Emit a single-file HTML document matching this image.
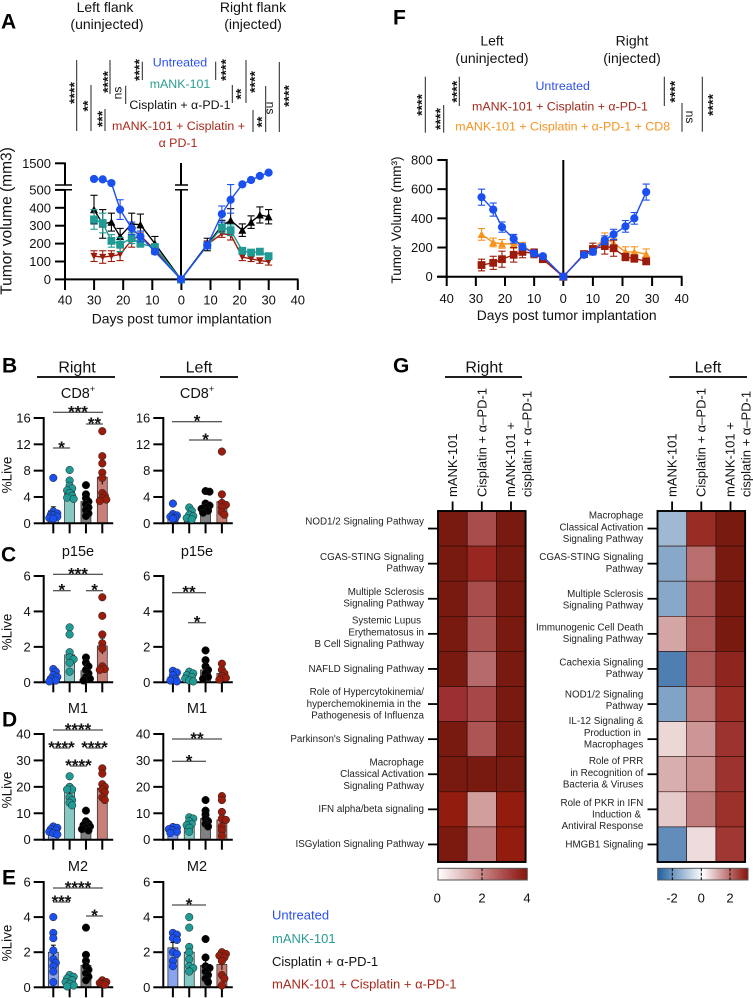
<!DOCTYPE html>
<html lang="en">
<head>
<meta charset="utf-8">
<title>Tumor volume, immune cell and pathway panels</title>
<style>
html,body{margin:0;padding:0;background:#fff;}
svg{display:block;}
text{font-family:"Liberation Sans",Arial,sans-serif;fill:#111;dominant-baseline:central;}
.h{font-size:14px;text-anchor:middle;}
.letter{font-size:21px;font-weight:bold;fill:#000;}
.leg{font-size:12.4px;text-anchor:middle;}
.rl{font-size:9.8px;text-anchor:end;fill:#222;}
.cl{font-size:13px;}
.t{font-size:14.5px;text-anchor:middle;}
.tick{font-size:13px;}
</style>
</head>
<body>
<svg id="fig" xmlns="http://www.w3.org/2000/svg" width="753" height="998" viewBox="0 0 753 998">
<defs>
<linearGradient id="gradRight" x1="0" x2="1" y1="0" y2="0">
<stop offset="0" stop-color="#ffffff"/><stop offset="0.5" stop-color="#c78686"/><stop offset="0.8" stop-color="#a43c3c"/><stop offset="1" stop-color="#86140a"/>
</linearGradient>
<linearGradient id="gradLeft" x1="0" x2="1" y1="0" y2="0">
<stop offset="0" stop-color="#1f5f9f"/><stop offset="0.17" stop-color="#6f97c0"/><stop offset="0.5" stop-color="#ffffff"/><stop offset="0.83" stop-color="#b25c5c"/><stop offset="1" stop-color="#86140a"/>
</linearGradient>
</defs>

<!-- panel letters -->
<text class="letter" x="1" y="22">A</text>
<text class="letter" x="393" y="18">F</text>
<text class="letter" x="2" y="366">B</text>
<text class="letter" x="1" y="555">C</text>
<text class="letter" x="2" y="720">D</text>
<text class="letter" x="2" y="878">E</text>
<text class="letter" x="393" y="366">G</text>

<!-- panel A header -->
<text class="h" x="105" y="7">Left flank</text>
<text class="h" x="107" y="24">(uninjected)</text>
<text class="h" x="253" y="7">Right flank</text>
<text class="h" x="253" y="24">(injected)</text>
<text class="leg" x="180" y="62.7" style="fill:#2b4ff0">Untreated</text>
<text class="leg" x="180" y="84" style="fill:#2a9d94">mANK-101</text>
<text class="leg" x="180" y="105">Cisplatin + α-PD-1</text>
<text class="leg" x="178.5" y="126" style="fill:#a8281a">mANK-101 + Cisplatin +</text>
<text class="leg" x="178" y="143" style="fill:#a8281a">α PD-1</text>

<!-- panel F header -->
<text class="h" x="492" y="40.7">Left</text>
<text class="h" x="492" y="58">(uninjected)</text>
<text class="h" x="632" y="40.7">Right</text>
<text class="h" x="632" y="58">(injected)</text>
<text class="leg" x="562.7" y="86" style="fill:#2b4ff0">Untreated</text>
<text class="leg" x="560" y="106.7" style="fill:#a02a1c">mANK-101 + Cisplatin + α-PD-1</text>
<text class="leg" x="562.7" y="126.7" style="fill:#f7931e">mANK-101 + Cisplatin + α-PD-1 + CD8</text>

<!-- axis titles -->
<text x="7" y="221" transform="rotate(-90 7 221)" style="font-size:15.5px;text-anchor:middle">Tumor volume (mm3)</text>
<text x="181.7" y="318.3" style="font-size:13.9px;text-anchor:middle">Days post tumor implantation</text>
<text x="396.7" y="220" transform="rotate(-90 396.7 220)" style="font-size:13.5px;text-anchor:middle">Tumor Volume (mm³)</text>
<text x="566.7" y="315" style="font-size:13.9px;text-anchor:middle">Days post tumor implantation</text>

<!-- bar panel titles -->
<text class="t" x="77" y="368" style="font-size:16px">Right</text>
<line x1="37" x2="115" y1="377" y2="377" stroke="#000" stroke-width="1.8"/>
<text class="t" x="199" y="368" style="font-size:16px">Left</text>
<line x1="160" x2="238" y1="377" y2="377" stroke="#000" stroke-width="1.8"/>
<text class="t" x="78" y="394">CD8<tspan dy="-5" font-size="9">+</tspan></text>
<text class="t" x="197" y="394">CD8<tspan dy="-5" font-size="9">+</tspan></text>
<text class="t" x="78" y="552">p15e</text>
<text class="t" x="197" y="552">p15e</text>
<text class="t" x="78" y="709">M1</text>
<text class="t" x="197" y="709">M1</text>
<text class="t" x="78" y="867">M2</text>
<text class="t" x="197" y="867">M2</text>
<text class="t" x="7" y="475" transform="rotate(-90 7 475)" style="font-size:13.5px">%Live</text>
<text class="t" x="7" y="632" transform="rotate(-90 7 632)" style="font-size:13.5px">%Live</text>
<text class="t" x="7" y="790" transform="rotate(-90 7 790)" style="font-size:13.5px">%Live</text>
<text class="t" x="7" y="943" transform="rotate(-90 7 943)" style="font-size:13.5px">%Live</text>

<!-- bottom legend -->
<text x="272" y="915" style="font-size:13px;fill:#2b4ff0">Untreated</text>
<text x="272" y="938.7" style="font-size:13px;fill:#2a9d94">mANK-101</text>
<text x="272" y="961.3" style="font-size:13px">Cisplatin + α-PD-1</text>
<text x="272" y="984" style="font-size:13px;fill:#a8281a">mANK-101 + Cisplatin + α-PD-1</text>

<!-- heatmap G headers -->
<text class="t" x="484" y="368" style="font-size:16px">Right</text>
<line x1="445" x2="522" y1="377" y2="377" stroke="#000" stroke-width="1.8"/>
<text class="t" x="708" y="368" style="font-size:16px">Left</text>
<line x1="669.3" x2="747" y1="377" y2="377" stroke="#000" stroke-width="1.8"/>
<text class="cl" transform="translate(452.7 497) rotate(-90)">mANK-101</text>
<text class="cl" transform="translate(482 497) rotate(-90)">Cisplatin + α–PD-1</text>
<text class="cl" transform="translate(510.7 497) rotate(-90)">mANK-101 +</text>
<text class="cl" transform="translate(527 497) rotate(-90)">cisplatin + α–PD-1</text>
<text class="cl" transform="translate(672 497) rotate(-90)">mANK-101</text>
<text class="cl" transform="translate(701 497) rotate(-90)">Cisplatin + α–PD-1</text>
<text class="cl" transform="translate(730 497) rotate(-90)">mANK-101 +</text>
<text class="cl" transform="translate(746 497) rotate(-90)">cisplatin + α–PD-1</text>

<!-- heatmap right row labels -->
<g>
<text class="rl" x="424" y="522">NOD1/2 Signaling Pathway</text>
<text class="rl" x="424" y="557.3">CGAS-STING Signaling</text>
<text class="rl" x="424" y="569">Pathway</text>
<text class="rl" x="424" y="592.3">Multiple Sclerosis</text>
<text class="rl" x="424" y="604">Signaling Pathway</text>
<text class="rl" x="421" y="621">Systemic Lupus</text>
<text class="rl" x="424" y="633">Erythematosus in</text>
<text class="rl" x="424" y="644.3">B Cell Signaling Pathway</text>
<text class="rl" x="424" y="669.3">NAFLD Signaling Pathway</text>
<text class="rl" x="424" y="692.7">Role of Hypercytokinemia/</text>
<text class="rl" x="421" y="704.3">hyperchemokinemia in the</text>
<text class="rl" x="424" y="716">Pathogenesis of Influenza</text>
<text class="rl" x="424" y="739.3">Parkinson's Signaling Pathway</text>
<text class="rl" x="424" y="763">Macrophage</text>
<text class="rl" x="424" y="774.7">Classical Activation</text>
<text class="rl" x="424" y="786.7">Signaling Pathway</text>
<text class="rl" x="424" y="809.7">IFN alpha/beta signaling</text>
<text class="rl" x="424" y="844.7">ISGylation Signaling Pathway</text>
</g>
<!-- heatmap left row labels -->
<g>
<text class="rl" x="643.3" y="516">Macrophage</text>
<text class="rl" x="643.3" y="528">Classical Activation</text>
<text class="rl" x="643.3" y="539.3">Signaling Pathway</text>
<text class="rl" x="643.3" y="557.3">CGAS-STING Signaling</text>
<text class="rl" x="643.3" y="569.3">Pathway</text>
<text class="rl" x="643.3" y="594.3">Multiple Sclerosis</text>
<text class="rl" x="643.3" y="606">Signaling Pathway</text>
<text class="rl" x="643.3" y="628">Immunogenic Cell Death</text>
<text class="rl" x="643.3" y="639.3">Signaling Pathway</text>
<text class="rl" x="643.3" y="663">Cachexia Signaling</text>
<text class="rl" x="643.3" y="674.7">Pathway</text>
<text class="rl" x="643.3" y="695">NOD1/2 Signaling</text>
<text class="rl" x="643.3" y="706.7">Pathway</text>
<text class="rl" x="643.3" y="721.7">IL-12 Signaling &amp;</text>
<text class="rl" x="641" y="733.3">Production in</text>
<text class="rl" x="643.3" y="745">Macrophages</text>
<text class="rl" x="643.3" y="761.7">Role of PRR</text>
<text class="rl" x="643.3" y="773.3">in Recognition of</text>
<text class="rl" x="643.3" y="785">Bacteria &amp; Viruses</text>
<text class="rl" x="643.3" y="803.3">Role of PKR in IFN</text>
<text class="rl" x="641" y="815">Induction &amp;</text>
<text class="rl" x="643.3" y="826.7">Antiviral Response</text>
<text class="rl" x="643.3" y="845">HMGB1 Signaling</text>
</g>

<!-- colorbars -->
<rect x="438" y="868.3" width="89.3" height="11.7" fill="url(#gradRight)" stroke="#555" stroke-width="1"/>
<line x1="482" x2="482" y1="868.3" y2="880" stroke="#000" stroke-dasharray="3 1.5"/>
<text class="tick" x="437.3" y="898" text-anchor="middle">0</text>
<text class="tick" x="482" y="898" text-anchor="middle">2</text>
<text class="tick" x="527" y="898" text-anchor="middle">4</text>
<rect x="657.7" y="868.3" width="90.3" height="11.7" fill="url(#gradLeft)" stroke="#555" stroke-width="1"/>
<line x1="672.3" x2="672.3" y1="868.3" y2="880" stroke="#000" stroke-dasharray="3 1.5"/>
<line x1="701.3" x2="701.3" y1="868.3" y2="880" stroke="#000" stroke-dasharray="3 1.5"/>
<line x1="730" x2="730" y1="868.3" y2="880" stroke="#000" stroke-dasharray="3 1.5"/>
<text class="tick" x="672" y="898" text-anchor="middle">-2</text>
<text class="tick" x="701.3" y="898" text-anchor="middle">0</text>
<text class="tick" x="730" y="898" text-anchor="middle">2</text>

<g id="charts"></g>
</svg>

<script>
// ---------- Panel A data ----------
const aDaysLeft = [30, 27, 24, 21, 17, 14, 9, 0];
const aDaysRight = [0, 9, 14, 17, 21, 24, 27, 30];
const aCisLeft = [390, 310, 320, 240, 310, 305, 200, 0];
const aCisLeftErr = [80, 80, 50, 45, 60, 60, 40, 0];
const aCisRight = [0, 195, 300, 330, 275, 320, 360, 350];
const aCisRightErr = [0, 35, 30, 65, 35, 35, 45, 40];
const aComboLeft = [130, 125, 130, 140, 220, 245, 165, 0];
const aComboLeftErr = [30, 35, 30, 35, 40, 25, 20, 0];
const aComboRight = [0, 195, 255, 250, 125, 115, 105, 100];
const aComboRightErr = [0, 20, 20, 30, 20, 15, 15, 20];
const aMankLeft = [335, 315, 215, 195, 230, 200, 180, 0];
const aMankLeftErr = [55, 55, 35, 40, 30, 20, 20, 0];
const aMankRight = [0, 190, 290, 275, 160, 150, 155, 130];
const aMankRightErr = [0, 15, 30, 30, 15, 10, 10, 15];
const aUntreatedLeft = [780, 760, 590, 390, 285, 240, 155, 0];
const aUntreatedLeftErr = [0, 0, 0, 55, 35, 30, 15, 0];
const aUntreatedRight = [0, 190, 365, 445, 530, 730, 915, 1070];
const aUntreatedRightErr = [0, 20, 45, 75, 0, 0, 0, 0];
const aYTicks = [0, 100, 200, 300, 400, 500, 1500];
const sideTicks = [40, 30, 20, 10, 0, 10, 20, 30, 40];

// ---------- Panel F data ----------
const fDaysLeft = [28, 24, 21, 17, 14, 10, 7, 0];
const fDaysRight = [0, 7, 10, 14, 17, 21, 24, 28];
const fOrangeLeft = [290, 235, 225, 225, 210, 165, 130, 0];
const fOrangeLeftErr = [40, 30, 30, 30, 25, 20, 15, 0];
const fOrangeRight = [0, 155, 185, 265, 230, 170, 170, 155];
const fOrangeRightErr = [0, 15, 25, 35, 30, 35, 35, 35];
const fRedLeft = [80, 95, 120, 150, 170, 160, 120, 0];
const fRedLeftErr = [40, 45, 55, 50, 40, 30, 15, 0];
const fRedRight = [0, 155, 190, 210, 195, 135, 125, 105];
const fRedRightErr = [0, 20, 40, 55, 55, 25, 25, 15];
const fBlueLeft = [545, 460, 340, 260, 205, 160, 140, 0];
const fBlueLeftErr = [55, 45, 35, 30, 20, 20, 15, 0];
const fBlueRight = [0, 150, 170, 250, 290, 345, 400, 580];
const fBlueRightErr = [0, 15, 20, 30, 35, 40, 40, 55];
const fYTicks = [0, 200, 400, 600, 800];

// ---------- Bar panel data (Untreated, mANK-101, Cisplatin, Combo) ----------
const bRightMeans = [1.9, 5.2, 3.3, 7.0];
const bRightErr = [0.6, 0.5, 0.5, 1.1];
const bRightPts = [[6.9,1.8,1.5,1.3,1.2,1.0,0.8,0.7],[8.1,6.5,5.7,5.3,5.0,4.6,4.2,3.9,3.7],[5.8,4.4,3.8,3.3,2.9,2.4,2.0,1.5,1.1],[14.0,10.2,9.1,7.7,6.9,4.6,4.2,3.8,3.6,3.4]];
const bLeftMeans = [1.2, 1.2, 2.7, 3.3];
const bLeftErr = [0.3, 0.3, 0.4, 0.9];
const bLeftPts = [[3.0,1.4,1.2,1.0,0.8,0.7],[2.4,1.9,1.3,1.1,0.8,0.6],[4.9,4.8,3.0,2.7,2.4,2.2,1.9,1.6],[10.9,4.4,3.1,2.8,2.4,1.7,1.3]];
const cRightMeans = [0.35, 1.55, 0.65, 2.05];
const cRightErr = [0.1, 0.3, 0.15, 0.45];
const cRightPts = [[0.75,0.6,0.4,0.3,0.2,0.1,0.05],[3.1,2.7,1.7,1.4,1.3,1.1,0.6],[1.4,1.1,0.9,0.7,0.5,0.3,0.2,0.1],[4.8,3.75,2.7,2.2,1.9,0.9,0.75,0.7]];
const cLeftMeans = [0.3, 0.3, 0.7, 0.5];
const cLeftErr = [0.1, 0.1, 0.15, 0.12];
const cLeftPts = [[0.65,0.55,0.4,0.2,0.1,0.05],[0.6,0.5,0.4,0.3,0.2,0.1,0.05],[1.8,1.25,0.9,0.7,0.5,0.3,0.2],[1.05,0.7,0.5,0.35,0.25,0.15]];
const dRightMeans = [3.5, 18, 5.5, 19.5];
const dRightErr = [0.5, 1.5, 0.9, 1.5];
const dRightPts = [[5,4.5,4,3.5,3,2.5,2],[24,20,19,19,16,15,14,13],[11,7,6,5.5,5,4.5,4,3.5],[27,25,21,20,19,18,16,15]];
const dLeftMeans = [3.6, 5.8, 8, 7.5];
const dLeftErr = [0.4, 0.7, 1.1, 1.7];
const dLeftPts = [[4.8,4.5,4,3.5,3,2.5],[8.5,8,7,6,5.5,4.5,3],[15,11,9.5,8,7,6,5],[16.5,15,10.5,8,7.5,5,3.5,1.5]];
const eRightMeans = [2.0, 0.35, 1.25, 0.25];
const eRightErr = [0.4, 0.08, 0.35, 0.04];
const eRightPts = [[4,3.1,2.8,2.1,1.6,1.4,1.2,0.9,0.3],[0.7,0.6,0.5,0.4,0.3,0.2,0.1,0.05],[3.4,1.85,1.5,1.2,1,0.8,0.6,0.4],[0.4,0.3,0.25,0.2,0.15]];
const eLeftMeans = [2.25, 2.0, 1.25, 1.3];
const eLeftErr = [0.3, 0.4, 0.3, 0.3];
const eLeftPts = [[3.1,3.0,2.8,2.7,2.0,1.9,1.5,1.2],[4,3.4,2.3,2.0,1.6,1.2,1.1,0.9],[2.75,1.7,1.2,1.1,0.9,0.7,0.5,0.3],[2,1.9,1.8,1.7,1.5,0.7,0.5,0.1]];
const ticks16 = [0, 4, 8, 12, 16];
const ticks6 = [0, 2, 4, 6];
const ticks40 = [0, 10, 20, 30, 40];

// ---------- Heatmap data ----------
const heatRightRows = ['nod1-2','cgas-sting','multiple-sclerosis','lupus','nafld','hypercytokinemia','parkinsons','macrophage','ifn-alpha-beta','isgylation'];
const heatRightValues = [[4,3.0,4],[4,3.5,4],[4,3.0,4],[4,2.9,4],[4,2.5,4],[3.35,3.05,4],[4,2.85,4],[4,4,4],[3.7,1.75,3.7],[3.95,2.2,3.7]];
const heatLeftRows = ['macrophage','cgas-sting','multiple-sclerosis','immunogenic-death','cachexia','nod1-2','il-12','prr','pkr','hmgb1'];
const heatLeftValues = [[-1.2,2.6,3],[-1.6,1.7,3],[-1.6,2.0,3],[0.9,2.0,3],[-2.5,2.0,2.75],[-1.7,1.55,2.6],[0.35,1.1,2.5],[0.8,1.2,2.5],[0.5,1.5,2.55],[-2.2,0.3,2.45]];
const heatRightStops = [[0,'#ffffff'],[1,'#eed9d9'],[1.5,'#dcb0b0'],[2,'#c78a8a'],[2.5,'#b76a6a'],[3,'#a84c4c'],[3.35,'#9c3030'],[3.7,'#921c0e'],[4,'#791a10']];
const heatLeftStops = [[-3,'#1f5f9f'],[-2.5,'#4f7fb0'],[-2,'#6f97c0'],[-1.2,'#a0b8d2'],[0,'#ffffff'],[0.3,'#eedcdc'],[1,'#d09c9c'],[1.5,'#c07c7c'],[2,'#ae5858'],[2.6,'#9a2c26'],[3,'#791a10']];

// ---------- Helpers ----------
const NS = 'http://www.w3.org/2000/svg';
const root = document.getElementById('charts');
const BLUE = '#1a4ff0', TEAL = '#1f9a94', BLACK = '#000000', RED = '#9c1c0c', ORANGE = '#f7931e';

function mk(parent, tag, name, attrs) {
  const el = document.createElementNS(NS, tag);
  
  
  for (const k in attrs) el.setAttribute(k, attrs[k]);
  parent.appendChild(el);
  return el;
}
function line(p, name, x1, y1, x2, y2, color, w) {
  return mk(p, 'line', name, {x1: x1, y1: y1, x2: x2, y2: y2, stroke: color || '#000', 'stroke-width': w || 2});
}
function label(p, name, x, y, txt, anchor, size) {
  const t = mk(p, 'text', name, {x: x, y: y, 'text-anchor': anchor || 'middle', 'font-size': size || 13});
  t.textContent = txt;
  return t;
}
function vertical(p, name, x, y, txt, rot, size, bold, color) {
  const t = mk(p, 'text', name, {transform: 'translate(' + x + ' ' + y + ') rotate(' + rot + ')', 'text-anchor': 'middle', 'font-size': size, style: 'dominant-baseline:auto;' + (color ? 'fill:' + color : '')});
  if (bold) t.setAttribute('font-weight', 'bold');
  t.setAttribute('y', bold ? size * 0.59 : size * 0.28);
  t.textContent = txt;
}
function bracket(p, x, y1, y2, txt, tx, ty, rot) {
  line(p, 'significance-bracket', x, y1, x, y2, '#222', 1);
  if (txt === 'ns') vertical(p, 'significance-ns', tx, ty, txt, rot, 12, false);
  else vertical(p, 'significance-stars', tx, ty, txt, -90, 14, true);
}

// ---------- Brackets ----------
const brA = mk(root, 'g', 'a-significance-brackets', {});
bracket(brA, 76.7, 60, 131, '****', 70.7, 93);
bracket(brA, 91, 85, 131, '**', 84, 106);
bracket(brA, 105, 109, 131, '***', 98.7, 119);
bracket(brA, 110, 60, 94, '****', 104, 82);
bracket(brA, 125.7, 85.7, 104, 'ns', 118, 93, -90);
bracket(brA, 142.3, 61.7, 80, '****', 135.7, 70);
bracket(brA, 215.7, 61.7, 80, '****', 222, 70);
bracket(brA, 232.3, 85, 103, '**', 237, 94);
bracket(brA, 246, 60, 103, '****', 251, 82);
bracket(brA, 253, 110, 132, '**', 258, 122);
bracket(brA, 265.7, 86, 132, 'ns', 270, 108, 90);
bracket(brA, 279.3, 62, 132, '****', 285, 96);
const brF = mk(root, 'g', 'f-significance-brackets', {});
bracket(brF, 425.3, 76.7, 132.7, '****', 418, 105);
bracket(brF, 443.7, 105, 132.7, '****', 436.7, 119);
bracket(brF, 459.3, 76.7, 106, '****', 453, 91.7);
bracket(brF, 664.3, 76.7, 106, '****', 671, 91.7);
bracket(brF, 682, 103, 131.7, 'ns', 689.3, 117, 90);
bracket(brF, 702.3, 76.7, 131.7, '****', 709, 105);

// ---------- Line charts ----------
function marker(p, kind, x, y, color) {
  if (kind === 'circle') {
    mk(p, 'circle', 'series-point', {cx: x, cy: y, r: 4.1, fill: color});
  } else if (kind === 'square') {
    mk(p, 'rect', 'series-point', {x: x - 3.9, y: y - 3.9, width: 7.8, height: 7.8, fill: color});
  } else if (kind === 'up') {
    mk(p, 'polygon', 'series-point', {points: (x - 4) + ',' + (y + 3.6) + ' ' + (x + 4) + ',' + (y + 3.6) + ' ' + x + ',' + (y - 4), fill: color});
  } else {
    mk(p, 'polygon', 'series-point', {points: (x - 3.6) + ',' + (y - 3.2) + ' ' + (x + 3.6) + ',' + (y - 3.2) + ' ' + x + ',' + (y + 3.6), fill: color});
  }
}
function series(p, name, days, vals, errs, sx, sy, color, kind) {
  const g = mk(p, 'g', name, {});
  const pts = days.map(function (d, i) { return sx(d) + ',' + sy(vals[i]); }).join(' ');
  mk(g, 'polyline', 'series-line', {points: pts, fill: 'none', stroke: color, 'stroke-width': 1.4});
  days.forEach(function (d, i) {
    if (errs[i] > 0) {
      const x = sx(d);
      const hi = sy(vals[i] + errs[i]), lo = sy(vals[i] - errs[i]);
      line(g, 'error-bar', x, hi, x, lo, color, 1.1);
      line(g, 'error-cap', x - 3.6, hi, x + 3.6, hi, color, 1.1);
      line(g, 'error-cap', x - 3.6, lo, x + 3.6, lo, color, 1.1);
    }
  });
  days.forEach(function (d, i) { marker(g, kind, sx(d), sy(vals[i]), color); });
}

// Panel A axes
const aY = function (v) { return v <= 500 ? 279.4 - v * 0.179 : 185 - (v - 500) * 0.0217; };
const aXL = function (d) { return 181 - d * 2.9; };
const aXR = function (d) { return 181 + d * 2.92; };
const aG = mk(root, 'g', 'a-tumor-volume-chart', {});
line(aG, 'a-x-axis', 64.2, 279.4, 298.5, 279.4);
sideTicks.forEach(function (t, i) {
  const x = 65 + i * 29.1;
  line(aG, 'x-tick', x, 279.4, x, 290);
  label(aG, 'x-tick-label', x, 300, t);
});
line(aG, 'a-y-axis-upper', 65, 162.5, 65, 185);
line(aG, 'a-y-axis-lower', 65, 189.8, 65, 279.4);
line(aG, 'a-center-axis-upper', 181, 163, 181, 185);
line(aG, 'a-center-axis-lower', 181, 189.8, 181, 279.4);
aYTicks.forEach(function (t) {
  const y = t === 1500 ? aY(1500) : aY(t);
  line(aG, 'y-tick', 55, y, 65, y);
  label(aG, 'y-tick-label', 51, y, t, 'end');
});
[185, 189.8].forEach(function (y) {
  line(aG, 'axis-break', 55, y, 72, y, '#000', 1.5);
  line(aG, 'axis-break', 175, y, 188, y, '#000', 1.5);
});
series(aG, 'a-combo-left', aDaysLeft, aComboLeft, aComboLeftErr, aXL, aY, RED, 'down');
series(aG, 'a-combo-right', aDaysRight, aComboRight, aComboRightErr, aXR, aY, RED, 'down');
series(aG, 'a-cisplatin-left', aDaysLeft, aCisLeft, aCisLeftErr, aXL, aY, BLACK, 'up');
series(aG, 'a-cisplatin-right', aDaysRight, aCisRight, aCisRightErr, aXR, aY, BLACK, 'up');
series(aG, 'a-mank101-left', aDaysLeft, aMankLeft, aMankLeftErr, aXL, aY, TEAL, 'square');
series(aG, 'a-mank101-right', aDaysRight, aMankRight, aMankRightErr, aXR, aY, TEAL, 'square');
series(aG, 'a-untreated-left', aDaysLeft, aUntreatedLeft, aUntreatedLeftErr, aXL, aY, BLUE, 'circle');
series(aG, 'a-untreated-right', aDaysRight, aUntreatedRight, aUntreatedRightErr, aXR, aY, BLUE, 'circle');

// Panel F axes
const fY = function (v) { return 276.7 - v * 0.1459; };
const fXL = function (d) { return 563.3 - d * 2.92; };
const fXR = function (d) { return 563.3 + d * 2.96; };
const fG = mk(root, 'g', 'f-tumor-volume-chart', {});
line(fG, 'f-x-axis', 437, 276.7, 682.5, 276.7);
sideTicks.forEach(function (t, i) {
  const x = i <= 4 ? 446.7 + i * 29.15 : 563.3 + (i - 4) * 29.6;
  line(fG, 'x-tick', x, 276.7, x, 286);
  label(fG, 'x-tick-label', x, 298.3, t);
});
line(fG, 'f-y-axis', 446.7, 159, 446.7, 276.7);
line(fG, 'f-center-axis', 563.3, 160, 563.3, 276.7);
fYTicks.forEach(function (t) {
  const y = fY(t);
  line(fG, 'y-tick', 437.3, y, 446.7, y);
  label(fG, 'y-tick-label', 432.7, y, t, 'end');
});
series(fG, 'f-orange-left', fDaysLeft, fOrangeLeft, fOrangeLeftErr, fXL, fY, ORANGE, 'up');
series(fG, 'f-orange-right', fDaysRight, fOrangeRight, fOrangeRightErr, fXR, fY, ORANGE, 'up');
series(fG, 'f-combo-left', fDaysLeft, fRedLeft, fRedLeftErr, fXL, fY, RED, 'square');
series(fG, 'f-combo-right', fDaysRight, fRedRight, fRedRightErr, fXR, fY, RED, 'square');
series(fG, 'f-untreated-left', fDaysLeft, fBlueLeft, fBlueLeftErr, fXL, fY, BLUE, 'circle');
series(fG, 'f-untreated-right', fDaysRight, fBlueRight, fBlueRightErr, fXR, fY, BLUE, 'circle');

// ---------- Bar panels ----------
const barFills = ['#8aa4f0', '#86c9c4', '#808080', '#c77f78'];
const dotFills = [BLUE, TEAL, BLACK, RED];
function barPanel(name, ax, yTop, yZero, ticks, means, errs, pts) {
  const g = mk(root, 'g', name, {});
  const maxV = ticks[ticks.length - 1];
  const sy = function (v) { return yZero - v * (yZero - yTop) / maxV; };
  const sx = function (i) { return ax + 9.6 + i * 16.33; };
  means.forEach(function (m, i) {
    mk(g, 'rect', 'bar', {x: sx(i) - 5, y: sy(m), width: 10, height: yZero - sy(m), fill: barFills[i], stroke: '#222', 'stroke-width': 0.7});
  });
  line(g, 'y-axis', ax, yTop - 1, ax, yZero + 1);
  line(g, 'x-axis', ax, yZero, ax + 69.5, yZero);
  ticks.forEach(function (t) {
    line(g, 'y-tick', ax - 10, sy(t), ax, sy(t));
    label(g, 'y-tick-label', ax - 13, sy(t), t, 'end');
  });
  means.forEach(function (m, i) {
    line(g, 'x-tick', sx(i), yZero, sx(i), yZero + 10);
    line(g, 'error-bar', sx(i), sy(m + errs[i]), sx(i), sy(m - errs[i]), '#000', 1);
    line(g, 'error-cap', sx(i) - 2.5, sy(m + errs[i]), sx(i) + 2.5, sy(m + errs[i]), '#000', 1);
  });
  pts.forEach(function (list, i) {
    const placed = [];
    list.forEach(function (v) {
      const y = sy(v);
      const offs = [0, 2.5, -2.5, 4, -4];
      let best = 0, bestD = -1;
      for (let k = 0; k < offs.length; k++) {
        let d = 99;
        placed.forEach(function (q) { d = Math.min(d, Math.hypot(q[0] - offs[k], q[1] - y)); });
        if (d >= 3.6) { best = offs[k]; bestD = d; break; }
        if (d > bestD) { best = offs[k]; bestD = d; }
      }
      placed.push([best, y]);
      mk(g, 'circle', 'data-point', {cx: sx(i) + best, cy: y, r: 3.8, fill: dotFills[i], stroke: '#222', 'stroke-width': 0.5});
    });
  });
  return g;
}
barPanel('b-right-chart', 43.7, 418, 523.3, ticks16, bRightMeans, bRightErr, bRightPts);
barPanel('b-left-chart', 163.3, 418, 523.3, ticks16, bLeftMeans, bLeftErr, bLeftPts);
barPanel('c-right-chart', 43.7, 576, 682.3, ticks6, cRightMeans, cRightErr, cRightPts);
barPanel('c-left-chart', 163.3, 576, 682.3, ticks6, cLeftMeans, cLeftErr, cLeftPts);
barPanel('d-right-chart', 43.7, 734, 839.7, ticks40, dRightMeans, dRightErr, dRightPts);
barPanel('d-left-chart', 163.3, 734, 839.7, ticks40, dLeftMeans, dLeftErr, dLeftPts);
barPanel('e-right-chart', 43.7, 882, 987.3, ticks6, eRightMeans, eRightErr, eRightPts);
barPanel('e-left-chart', 163.3, 882, 987.3, ticks6, eLeftMeans, eLeftErr, eLeftPts);

function sig(x1, x2, y, txt) {
  const g = mk(root, 'g', 'significance-marker', {});
  line(g, 'significance-line', x1, y, x2, y, '#222', 1);
  const t = mk(g, 'text', 'significance-stars', {x: (x1 + x2) / 2, y: y + 5, 'text-anchor': 'middle', 'font-size': 17, 'font-weight': 'bold', style: 'dominant-baseline:auto'});
  t.textContent = txt;
}
sig(53, 103, 412.3, '***'); sig(86, 103, 424, '**'); sig(53, 70, 448, '*');
sig(172, 222, 421.7, '*'); sig(189, 222, 440, '*');
sig(53, 103, 574.3, '***'); sig(53, 70.7, 590.7, '*'); sig(86, 103, 590.7, '*');
sig(172, 206, 592.7, '**'); sig(188, 206, 622.7, '*');
sig(53, 103, 730, '****'); sig(53, 70, 748, '****'); sig(86, 103, 748, '****'); sig(70, 87, 766, '****');
sig(172, 222, 739, '**'); sig(172, 206, 761.3, '*');
sig(53, 103, 888, '****'); sig(53, 70, 902, '***'); sig(86, 103, 916, '*');
sig(172, 206, 905, '*');

// ---------- Heatmaps ----------
function hex(c) { return [1, 3, 5].map(function (i) { return parseInt(c.substr(i, 2), 16); }); }
function colorOf(v, stops) {
  for (let i = 1; i < stops.length; i++) {
    if (v <= stops[i][0]) {
      const a = hex(stops[i - 1][1]), b = hex(stops[i][1]);
      const t = Math.max(0, (v - stops[i - 1][0]) / (stops[i][0] - stops[i - 1][0]));
      return 'rgb(' + a.map(function (c, k) { return Math.round(c + (b[k] - c) * t); }).join(',') + ')';
    }
  }
  return stops[stops.length - 1][1];
}
function heatmap(name, x0, rows, values, stops) {
  const g = mk(root, 'g', name, {});
  const cw = 29.2, rh = 35.1, y0 = 511;
  values.forEach(function (row, r) {
    row.forEach(function (v, c) {
      mk(g, 'rect', 'heat-cell-' + rows[r], {x: x0 + c * cw, y: y0 + r * rh, width: cw, height: rh, fill: colorOf(v, stops), stroke: '#2a0a06', 'stroke-width': 0.6});
    });
    line(g, 'row-tick', x0 - 10, y0 + (r + 0.5) * rh, x0, y0 + (r + 0.5) * rh, '#000', 1.8);
  });
  values[0].forEach(function (v, c) {
    line(g, 'col-tick', x0 + (c + 0.5) * cw, y0 - 9.5, x0 + (c + 0.5) * cw, y0, '#000', 1.8);
  });
  mk(g, 'rect', 'heatmap-frame', {x: x0, y: y0, width: cw * values[0].length, height: rh * values.length, fill: 'none', stroke: '#000', 'stroke-width': 1.9});
}
heatmap('g-right-heatmap', 438, heatRightRows, heatRightValues, heatRightStops);
heatmap('g-left-heatmap', 657.5, heatLeftRows, heatLeftValues, heatLeftStops);
</script>
</body>
</html>
